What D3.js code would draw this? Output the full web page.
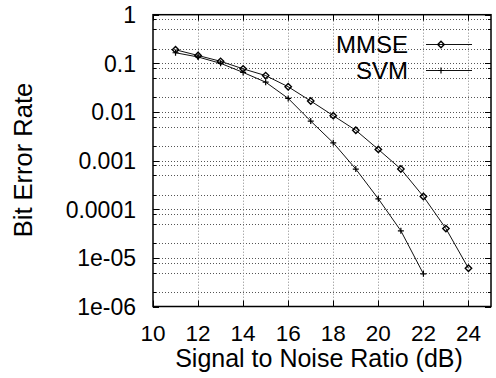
<!DOCTYPE html>
<html>
<head>
<meta charset="utf-8">
<script src="https://cdn.jsdelivr.net/npm/d3@7"></script>
<style>
  body { margin: 0; background: #fff; }
  svg text { font-family: "Liberation Sans", Arial, sans-serif; fill: #000; }
</style>
</head>
<body>
<svg id="chart" width="496" height="378"></svg>
<script>
// SNR points (dB)
var snr = [11, 12, 13, 14, 15, 16, 17, 18, 19, 20, 21, 22, 23, 24];
var snrSvm = [11, 12, 13, 14, 15, 16, 17, 18, 19, 20, 21, 22];
// bit error rates
var berMmse = [0.19, 0.145, 0.11, 0.077, 0.056, 0.033, 0.0168, 0.0084, 0.0042, 0.0017, 0.00067, 0.000183, 0.00004, 0.0000061];
var berSvm = [0.165, 0.135, 0.1, 0.065, 0.041, 0.019, 0.0065, 0.00232, 0.00067, 0.000164, 0.000036, 0.0000047];
var xTicks = [10, 12, 14, 16, 18, 20, 22, 24];
var yTicks = [1, 0.1, 0.01, 0.001, 0.0001, 0.00001, 0.000001];
var yTickLabels = ["1", "0.1", "0.01", "0.001", "0.0001", "1e-05", "1e-06"];
var yMinor = [0.8, 0.5, 0.2, 0.08, 0.05, 0.02, 0.008, 0.005, 0.002, 0.0008, 0.0005, 0.0002,
              0.00008, 0.00005, 0.00002, 0.000008, 0.000005, 0.000002];

(function () {
	var svg = d3.select('#chart');
	var pL = 153, pR = 491, pT = 14.7, pB = 306.5;

	var x = d3.scaleLinear().domain([10, 25]).range([pL, pR]);
	var y = d3.scaleLog().domain([1e-6, 1]).range([pB, pT]);

	// grid
	var grid = svg.append('g').attr('stroke', '#555').attr('stroke-width', 1).attr('stroke-dasharray', '1,2');
	grid.selectAll('.hg').data(yMinor.concat(yTicks.slice(1, -1))).enter().append('line')
		.attr('x1', pL).attr('x2', pR)
		.attr('y1', function (d) { return Math.round(y(d)) + 0.5; })
		.attr('y2', function (d) { return Math.round(y(d)) + 0.5; });
	grid.selectAll('.vg').data(xTicks.slice(1)).enter().append('line')
		.attr('stroke', '#888')
		.attr('y1', pT).attr('y2', pB)
		.attr('x1', function (d) { return Math.round(x(d)) + 0.5; })
		.attr('x2', function (d) { return Math.round(x(d)) + 0.5; });

	// tick marks on all four sides
	var ticks = svg.append('g').attr('stroke', '#000').attr('stroke-width', 1);
	yTicks.forEach(function (d) {
		var yy = Math.round(y(d)) + 0.5;
		ticks.append('line').attr('x1', pL).attr('x2', pL + 6).attr('y1', yy).attr('y2', yy);
		ticks.append('line').attr('x1', pR).attr('x2', pR - 6).attr('y1', yy).attr('y2', yy);
	});
	yMinor.forEach(function (d) {
		var yy = Math.round(y(d)) + 0.5;
		ticks.append('line').attr('x1', pL).attr('x2', pL + 3).attr('y1', yy).attr('y2', yy);
		ticks.append('line').attr('x1', pR).attr('x2', pR - 3).attr('y1', yy).attr('y2', yy);
	});
	xTicks.forEach(function (d) {
		var xx = Math.round(x(d)) + 0.5;
		ticks.append('line').attr('y1', pB).attr('y2', pB - 6).attr('x1', xx).attr('x2', xx);
		ticks.append('line').attr('y1', pT).attr('y2', pT + 6).attr('x1', xx).attr('x2', xx);
	});

	// frame
	svg.append('rect').attr('x', pL).attr('y', pT).attr('width', pR - pL).attr('height', pB - pT)
		.attr('fill', 'none').attr('stroke', '#000').attr('stroke-width', 1.5);

	// tick labels
	svg.selectAll('.xl').data(xTicks).enter().append('text')
		.attr('x', function (d) { return x(d); }).attr('y', 341)
		.attr('text-anchor', 'middle').attr('font-size', 22.5).text(function (d) { return d; });
	svg.selectAll('.yl').data(yTicks).enter().append('text')
		.attr('x', 136).attr('y', function (d) { return y(d) + 8.3; })
		.attr('text-anchor', 'end').attr('font-size', 23)
		.text(function (d, i) { return yTickLabels[i]; });

	// axis titles
	svg.append('text').attr('x', 319).attr('y', 367).attr('text-anchor', 'middle')
		.attr('font-size', 25).text('Signal to Noise Ratio (dB)');
	svg.append('text').attr('transform', 'translate(32,160) rotate(-90)').attr('text-anchor', 'middle')
		.attr('font-size', 25.5).text('Bit Error Rate');

	// series
	var line = d3.line().x(function (d) { return x(d[0]); }).y(function (d) { return y(d[1]); });
	var mmse = d3.zip(snr, berMmse), svmPts = d3.zip(snrSvm, berSvm);

	var drawDiamond = function (g, cx, cy) {
		g.append('path').attr('d', 'M' + cx + ',' + (cy - 3.2) + 'L' + (cx + 3.2) + ',' + cy + 'L' + cx + ',' + (cy + 3.2) + 'L' + (cx - 3.2) + ',' + cy + 'Z')
			.attr('fill', 'none').attr('stroke', '#000').attr('stroke-width', 1.4);
	};
	var drawPlus = function (g, cx, cy) {
		g.append('path').attr('d', 'M' + (cx - 3) + ',' + cy + 'H' + (cx + 3) + 'M' + cx + ',' + (cy - 3) + 'V' + (cy + 3))
			.attr('stroke', '#000').attr('stroke-width', 1.2);
	};

	var plot = svg.append('g');
	plot.append('path').datum(mmse).attr('d', line).attr('fill', 'none').attr('stroke', '#111').attr('stroke-width', 1);
	plot.append('path').datum(svmPts).attr('d', line).attr('fill', 'none').attr('stroke', '#111').attr('stroke-width', 1);
	mmse.forEach(function (d) { drawDiamond(plot, x(d[0]), y(d[1])); });
	svmPts.forEach(function (d) { drawPlus(plot, x(d[0]), y(d[1])); });

	// legend
	var legend = svg.append('g');
	legend.append('text').attr('x', 408).attr('y', 52.5).attr('text-anchor', 'end').attr('font-size', 24).text('MMSE');
	legend.append('text').attr('x', 408).attr('y', 78.8).attr('text-anchor', 'end').attr('font-size', 24).text('SVM');
	legend.append('line').attr('x1', 426).attr('x2', 472).attr('y1', 44.5).attr('y2', 44.5).attr('stroke', '#111');
	legend.append('line').attr('x1', 426).attr('x2', 472).attr('y1', 70.5).attr('y2', 70.5).attr('stroke', '#111');
	drawDiamond(legend, 441, 44.5);
	drawPlus(legend, 441, 70.5);
})();
</script>
</body>
</html>
